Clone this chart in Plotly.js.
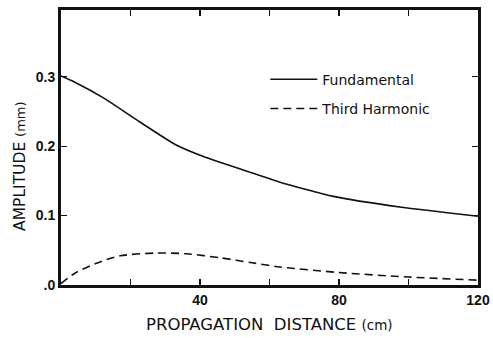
<!DOCTYPE html>
<html><head><meta charset="utf-8">
<script src="https://cdn.plot.ly/plotly-3.0.1.min.js"></script>
<style>html,body{margin:0;padding:0;background:#fff}</style>
</head><body><div id="chart" style="width:493px;height:338px"></div>
<script>
const fundX = [0, 4, 12.7, 22, 33, 41, 54, 63, 78, 98, 120];
const fundY = [0.301, 0.292, 0.268, 0.237, 0.202, 0.185, 0.163, 0.148, 0.128, 0.112, 0.099];
const thirdX = [0, 4, 10, 17, 27, 36, 46, 55, 63, 80, 100, 120];
const thirdY = [0.002, 0.017, 0.031, 0.042, 0.046, 0.045, 0.039, 0.032, 0.026, 0.018, 0.0115, 0.007];
const xTickVals = [0, 20, 40, 60, 80, 100, 120];
const xTickText = ["", "", "40", "", "80", "", "120"];
const yTickVals = [0, 0.1, 0.2, 0.3];
const yTickText = [".0", "0.1", "0.2", "0.3"];

const fontFam = '"Liberation Sans", Arial, sans-serif';
const titleFam = '"DejaVu Sans", "Liberation Sans", sans-serif';
const traces = [
  {x: fundX, y: fundY, mode: 'lines', name: 'Fundamental', legendgroup: 'a',
   line: {color: '#111', width: 1.6, shape: 'spline', smoothing: 0.5}},
  {x: thirdX, y: thirdY, mode: 'lines', name: 'Third Harmonic', legendgroup: 'b',
   line: {color: '#111', width: 1.6, dash: '8px,5px', shape: 'spline', smoothing: 0.8}}
];
const layout = {
  width: 493, height: 338,
  margin: {l: 61, r: 15, t: 10, b: 53},
  paper_bgcolor: '#fff', plot_bgcolor: '#fff',
  font: {family: fontFam, color: '#111', size: 13},
  showlegend: true,
  legend: {x: 0.49, y: 0.805, xanchor: 'left', yanchor: 'top', bgcolor: 'rgba(0,0,0,0)',
           font: {family: titleFam, size: 14, color: '#111'}, tracegroupgap: 8, itemwidth: 47},
  xaxis: {range: [0, 120], tickvals: xTickVals, ticktext: xTickText, ticks: 'inside', ticklen: 6, tickwidth: 1.2,
          tickcolor: '#111', showline: true, linewidth: 3, linecolor: '#111', mirror: 'ticks',
          showgrid: false, zeroline: false, tickfont: {size: 14, family: fontFam, weight: 'bold'}},
  yaxis: {range: [0, 0.396], tickvals: yTickVals, ticktext: yTickText, ticks: 'inside', ticklen: 6, tickwidth: 1.2,
          tickcolor: '#111', showline: true, linewidth: 3, linecolor: '#111', mirror: 'ticks',
          showgrid: false, zeroline: false, tickfont: {size: 14, family: fontFam, weight: 'bold'}},
  annotations: [
    {text: 'PROPAGATION&nbsp;&nbsp;DISTANCE <span style="font-size:13.5px">(cm)</span>', xref: 'paper', yref: 'paper',
     x: 0.5, y: -0.145, xanchor: 'center', yanchor: 'middle', showarrow: false,
     font: {family: titleFam, size: 16.5, color: '#111'}},
    {text: 'AMPLITUDE <span style="font-size:13px">(mm)</span>', xref: 'paper', yref: 'paper',
     x: -0.098, y: 0.43, xanchor: 'center', yanchor: 'middle', textangle: -90, showarrow: false,
     font: {family: titleFam, size: 15.5, color: '#111'}}
  ]
};
Plotly.newPlot('chart', traces, layout, {displayModeBar: false, staticPlot: true});
</script></body></html>
